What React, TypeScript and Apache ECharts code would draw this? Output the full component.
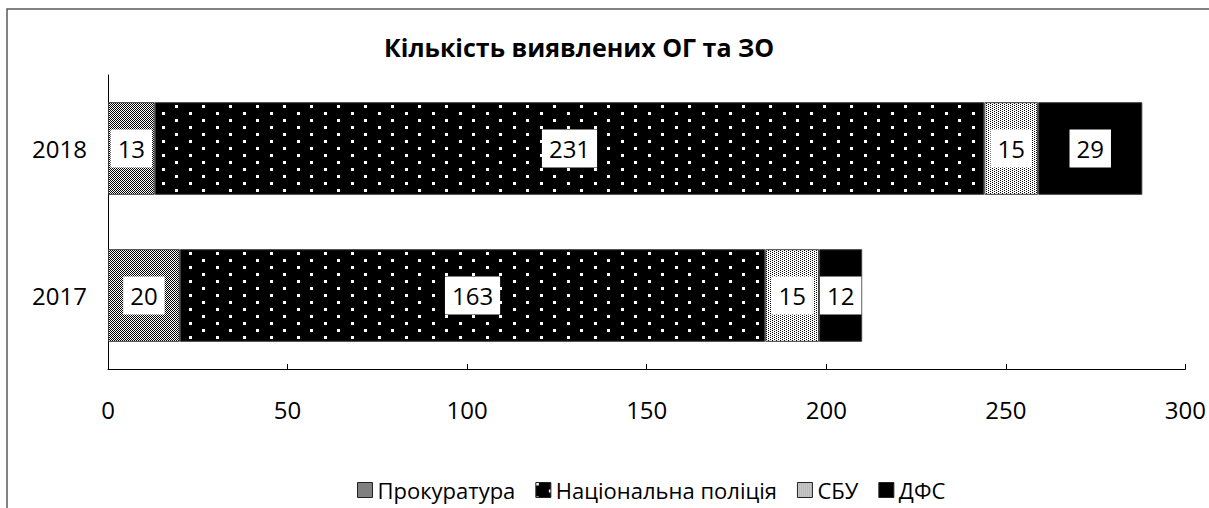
import React, { useEffect, useRef } from "react";
import * as echarts from "echarts";

const TITLE = "Кількість виявлених ОГ та ЗО";
const CATEGORIES = ["2017", "2018"];
const SERIES_NAMES = ["Прокуратура", "Національна поліція", "СБУ", "ДФС"];
const PROSECUTOR = [20, 13];
const POLICE = [163, 231];
const SBU = [15, 15];
const DFS = [12, 29];
const X_MIN = 0;
const X_MAX = 300;
const X_STEP = 50;

const FONT = "'Open Sans', 'Noto Sans', sans-serif";

function makeTile(w: number, h: number, bg: string, fg: string, dots: [number, number, number][]) {
  const c = document.createElement("canvas");
  c.width = w;
  c.height = h;
  const ctx = c.getContext("2d")!;
  ctx.fillStyle = bg;
  ctx.fillRect(0, 0, w, h);
  ctx.fillStyle = fg;
  dots.forEach(([x, y, s]) => ctx.fillRect(x, y, s, s));
  return c;
}

export default function App() {
  const ref = useRef<HTMLDivElement>(null);
  useEffect(() => {
    if (!ref.current) return;
    const chart = echarts.init(ref.current, null, { renderer: "svg" });

    const checker = makeTile(2, 2, "#ffffff", "#000000", [[0, 0, 1], [1, 1, 1]]);
    const policeTile = makeTile(27, 14, "#000000", "#ffffff", [[0, 0, 3], [13, 7, 3]]);
    const sbuTile = makeTile(4, 2, "#ffffff", "#000000", [[0, 0, 1], [2, 1, 1]]);

    const colors: any[] = [
      { image: checker, repeat: "repeat" },
      { image: policeTile, repeat: "repeat" },
      { image: sbuTile, repeat: "repeat" },
      "#000000",
    ];
    const values = [PROSECUTOR, POLICE, SBU, DFS];

    const series = SERIES_NAMES.map((name, i) => ({
      name,
      type: "bar",
      stack: "total",
      barCategoryGap: "37%",
      data: values[i],
      itemStyle: { color: colors[i], borderColor: "#3a3a3a", borderWidth: 1 },
      label: {
        show: true,
        position: "inside",
        color: "#000",
        fontFamily: FONT,
        fontSize: 24,
        backgroundColor: "#ffffff",
        padding: [5, 7, 5, 7],
        lineHeight: 28,
      },
    }));

    chart.setOption({
      animation: false,
      title: {
        text: TITLE,
        left: 379,
        top: 29,
        textStyle: { fontFamily: FONT, fontSize: 25, fontWeight: "bold", color: "#000" },
      },
      graphic: [
        {
          type: "rect",
          shape: { x: 7, y: 9, width: 1400, height: 700 },
          style: { fill: "none", stroke: "#595959", lineWidth: 1.5 },
          silent: true,
        },
      ],
      legend: {
        bottom: 2,
        left: 352,
        itemWidth: 15,
        itemHeight: 15,
        itemGap: 20,
        icon: "rect",
        textStyle: { fontFamily: FONT, fontSize: 22, color: "#000" },
        itemStyle: { borderColor: "#222", borderWidth: 1 },
      },
      grid: { left: 108, right: 23, top: 75, bottom: 139, containLabel: false },
      xAxis: {
        type: "value",
        min: X_MIN,
        max: X_MAX,
        interval: X_STEP,
        axisLine: { show: true, lineStyle: { color: "#000", width: 1 } },
        axisTick: { show: true, inside: true, length: 5, lineStyle: { color: "#000" } },
        splitLine: { show: false },
        axisLabel: { fontFamily: FONT, fontSize: 24, color: "#000", margin: 28 },
      },
      yAxis: {
        type: "category",
        data: CATEGORIES,
        axisLine: { show: true, lineStyle: { color: "#000", width: 1 } },
        axisTick: { show: false },
        axisLabel: { fontFamily: FONT, fontSize: 24, color: "#000", margin: 21 },
      },
      series,
    });
    return () => chart.dispose();
  }, []);
  return (
    <div
      ref={ref}
      style={{ position: "fixed", left: 0, top: 0, width: 1209, height: 508, background: "#fff" }}
    />
  );
}
